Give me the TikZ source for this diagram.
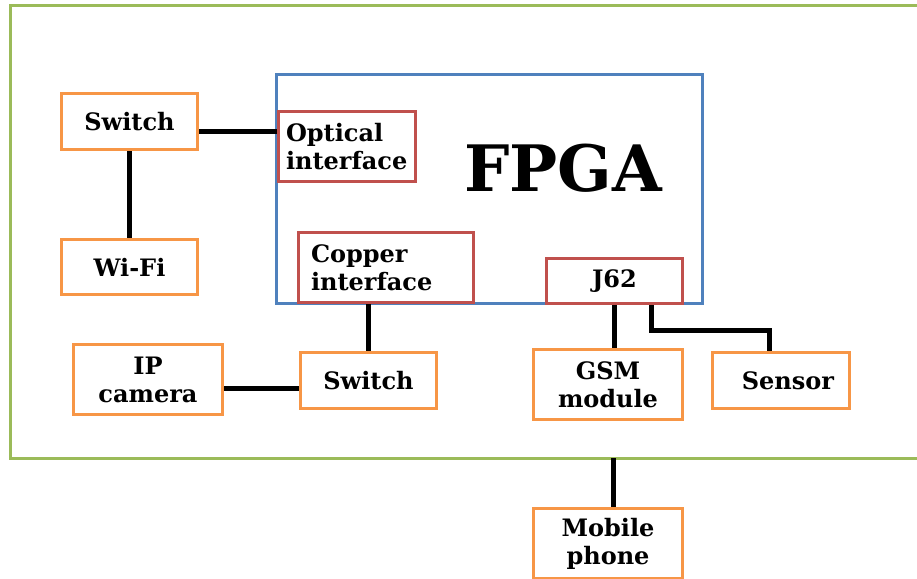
\documentclass[tikz,border=0pt]{standalone}
\usepackage{fontspec}
\setmainfont{DejaVu Serif}
\definecolor{frameGreen}{HTML}{9BBB59}
\definecolor{chipBlue}{HTML}{4F81BD}
\definecolor{portRed}{HTML}{C0504D}
\definecolor{unitOrange}{HTML}{F79646}
\tikzset{
  box/.style={draw, line width=3pt, inner sep=0pt, anchor=north west,
    font=\bfseries\fontsize{24}{28}\selectfont, align=center},
  obox/.style={box, draw=unitOrange},
  rbox/.style={box, draw=portRed},
  conn/.style={line width=5pt, black}
}
\begin{document}
\begin{tikzpicture}[x=1pt, y=-1pt]
  \clip (0,0) rectangle (917,578);
  \fill[white] (0,0) rectangle (917,578);

  % system boundary
  \draw[frameGreen, line width=3pt] (10,6) rectangle (935,458);

  % FPGA and its ports
  \node[box, draw=chipBlue, minimum width=426, minimum height=229] (fpga) at (275,73) {};
  \node[font=\bfseries\fontsize{64}{66}\selectfont] (fpgalabel) at (563,168) {FPGA};
  \node[rbox, minimum width=137, minimum height=70, text width=124, align=left] (optical) at (277,110) {\hspace*{1pt}Optical\\\hspace*{1pt}interface};
  \node[rbox, minimum width=175, minimum height=70, text width=150, align=left] (copper) at (297,231) {Copper\\interface};
  \node[rbox, minimum width=136, minimum height=45] (j62) at (545,257) {J62};

  % peripheral units
  \node[obox, minimum width=136, minimum height=56] (sw1) at (60,92) {Switch};
  \node[obox, minimum width=136, minimum height=55] (wifi) at (60,238) {Wi-Fi};
  \node[obox, minimum width=149, minimum height=70] (ipcam) at (72,343) {IP\\camera};
  \node[obox, minimum width=136, minimum height=56] (sw2) at (299,351) {Switch};
  \node[obox, minimum width=149, minimum height=70] (gsm) at (532,348) {GSM\\module};
  \node[obox, minimum width=137, minimum height=56] (sensor) at (711,351) {\hspace*{14pt}Sensor};
  \node[obox, minimum width=149, minimum height=70] (mobile) at (532,507) {Mobile\\phone};

  % links
  \draw[conn] ([yshift=-10pt]sw1.east) -- ([yshift=-10pt]sw1.east -| optical.west);
  \draw[conn] (sw1.south) -- (wifi.north);
  \draw[conn] (sw2.north |- copper.south) -- (sw2.north);
  \draw[conn] ([yshift=-8pt]sw2.west) -- ([yshift=-8pt]sw2.west -| ipcam.east);
  \draw[conn] (j62.south) -- (j62.south |- gsm.north);
  \draw[conn] ([xshift=37pt]j62.south) -- ++(0,25) -| ([xshift=-12pt]sensor.north);
  \coordinate (exit) at (613,458);
  \draw[conn] (exit) -- (exit |- mobile.north);
\end{tikzpicture}
\end{document}
